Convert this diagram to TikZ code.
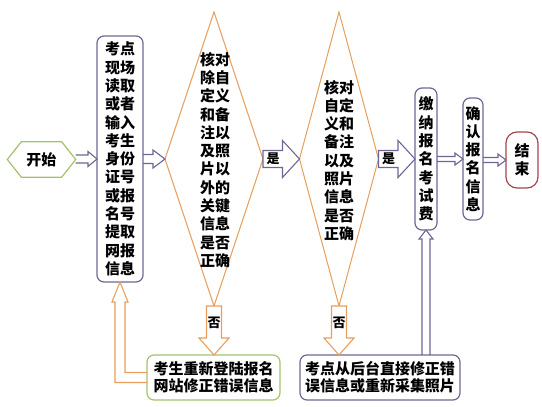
\documentclass[tikz,border=0pt]{standalone}
\usepackage{fontspec}
\newfontfamily\cjk{Noto Sans CJK SC}
\usetikzlibrary{shapes.geometric,calc}
\definecolor{pur}{RGB}{112,102,148}
\definecolor{org}{RGB}{232,158,92}
\definecolor{grn}{RGB}{165,193,110}
\definecolor{rdd}{RGB}{165,70,80}
\newcommand\cjkfont{\cjk\bfseries\fontsize{15}{18.3}\selectfont}
\newcommand\cjksmall{\cjk\bfseries\fontsize{13}{15}\selectfont}
\newcommand\cjkbottom{\cjk\bfseries\fontsize{15}{17}\selectfont}
\begin{document}
\begin{tikzpicture}[x=1pt,y=-1pt,
  box/.style={draw=pur,line width=1.2pt,rounded corners=7pt,inner sep=0pt,outer sep=0pt,align=center,font=\cjkfont},
  gbox/.style={box,draw=grn},
  rbox/.style={box,draw=rdd,rounded corners=11pt},
  dia/.style={diamond,draw=org,line width=1pt,inner sep=0pt,outer sep=0pt},
  txt/.style={inner sep=0pt,align=center,font=\cjkfont},
  lbl/.style={inner sep=0pt,font=\cjksmall},
  parrow/.style={draw=pur,line width=1.1pt,fill=white,line join=miter},
  oarrow/.style={draw=org,line width=1.1pt,fill=white,line join=miter}]
\useasboundingbox (0,0) rectangle (542,407);

% nodes
\node[txt,minimum width=68pt,minimum height=35pt] (start) at (41.5,159.5) {开始};
\draw[draw=grn,line width=1.2pt] (start.west) -- ($(start.north west)+(14,0)$) -- ($(start.north east)+(-14,0)$)
  -- (start.east) -- ($(start.south east)+(-14,0)$) -- ($(start.south west)+(14,0)$) -- cycle;

\node[box,minimum width=46pt,minimum height=246pt] (b1) at (120,159)
  {考点\\现场\\读取\\或者\\输入\\考生\\身份\\证号\\或报\\名号\\提取\\网报\\信息};

\node[dia,minimum width=98pt,minimum height=294pt] (d1) at (214,159) {};
\node[txt] (d1t) at (215,160) {核对\\除自\\定义\\和备\\注以\\及照\\片以\\外的\\关键\\信息\\是否\\正确};

\node[dia,minimum width=79pt,minimum height=294pt] (d2) at (339,159) {};
\node[txt] (d2t) at (339,160.5) {核对\\自定\\义和\\备注\\以及\\照片\\信息\\是否\\正确};

\node[box,minimum width=22pt,minimum height=142pt] (b3) at (426,159) {缴\\纳\\报\\名\\考\\试\\费};
\node[box,minimum width=20pt,minimum height=122pt] (b4) at (473,159) {确\\认\\报\\名\\信\\息};
\node[rbox,minimum width=32pt,minimum height=56pt] (end) at (522,160) {结\\束};

\node[gbox,minimum width=133pt,minimum height=45pt,font=\cjkbottom] (b5) at (213.5,377.5)
  {考生重新登陆报名\\网站修正错误信息};
\node[box,minimum width=160pt,minimum height=45pt,font=\cjkbottom] (b6) at (380,377.5)
  {考点从后台直接修正错\\误信息或重新采集照片};

% thin hollow arrows (open at start)
\draw[parrow,fill=none] let \p1=(start.east), \p2=(b1.west) in
  (\x1,{\y2+4pt}) -- ({\x2-9pt},{\y2+4pt}) -- ({\x2-9pt},{\y2+7.5pt}) -- (\x2,\y2)
  -- ({\x2-9pt},{\y2-7.5pt}) -- ({\x2-9pt},{\y2-4pt}) -- (\x1,{\y2-4pt});
\draw[parrow,fill=none] let \p1=(b1.east), \p2=(d1.west) in
  (\x1,{\y2+4.5pt}) -- ({\x2-12pt},{\y2+4.5pt}) -- ({\x2-12pt},{\y2+9pt}) -- (\x2,\y2)
  -- ({\x2-12pt},{\y2-9pt}) -- ({\x2-12pt},{\y2-4.5pt}) -- (\x1,{\y2-4.5pt});
\draw[parrow,fill=none] let \p1=(b3.east), \p2=(b4.west) in
  (\x1,{\y2+2.5pt}) -- ({\x2-8pt},{\y2+2.5pt}) -- ({\x2-8pt},{\y2+6pt}) -- (\x2,\y2)
  -- ({\x2-8pt},{\y2-6pt}) -- ({\x2-8pt},{\y2-2.5pt}) -- (\x1,{\y2-2.5pt});
\draw[parrow,fill=none] let \p1=(b4.east), \p2=(end.west) in
  (\x1,{\y2+2.5pt}) -- ({\x2-8pt},{\y2+2.5pt}) -- ({\x2-8pt},{\y2+6pt}) -- (\x2,\y2)
  -- ({\x2-8pt},{\y2-6pt}) -- ({\x2-8pt},{\y2-2.5pt}) -- (\x1,{\y2-2.5pt});

% block arrows "是"
\draw[parrow] let \p1=(d1.east), \p2=(d2.west) in
  (\x1,{\y2+8.5pt}) -- ({\x2-17pt},{\y2+8.5pt}) -- ({\x2-17pt},{\y2+18.5pt}) -- (\x2,\y2)
  -- ({\x2-17pt},{\y2-18.5pt}) -- ({\x2-17pt},{\y2-8.5pt}) -- (\x1,{\y2-8.5pt}) -- cycle;
\node[lbl] (yes1) at ($(d1.east)+(10,0)$) {是};
\draw[parrow] let \p1=(d2.east), \p2=(b3.west) in
  (\x1,{\y2+8.5pt}) -- ({\x2-17pt},{\y2+8.5pt}) -- ({\x2-17pt},{\y2+18.5pt}) -- (\x2,\y2)
  -- ({\x2-17pt},{\y2-18.5pt}) -- ({\x2-17pt},{\y2-8.5pt}) -- (\x1,{\y2-8.5pt}) -- cycle;
\node[lbl] (yes2) at ($(d2.east)+(10,0)$) {是};

% block arrows "否"
\draw[oarrow] let \p1=(d1.south), \p2=(b5.north -| d1.south) in
  ({\x1-7.5pt},\y1) -- ({\x1-7.5pt},{\y2+17pt}) -- ({\x1-15pt},{\y2+17pt}) -- (\x2,\y2)
  -- ({\x1+15pt},{\y2+17pt}) -- ({\x1+7.5pt},{\y2+17pt}) -- ({\x1+7.5pt},\y1) -- cycle;
\node[lbl] (no1) at ($(d1.south)+(0,17)$) {否};
\draw[oarrow] let \p1=(d2.south), \p2=(b6.north -| d2.south) in
  ({\x1-7.5pt},\y1) -- ({\x1-7.5pt},{\y2+17pt}) -- ({\x1-15pt},{\y2+17pt}) -- (\x2,\y2)
  -- ({\x1+15pt},{\y2+17pt}) -- ({\x1+7.5pt},{\y2+17pt}) -- ({\x1+7.5pt},\y1) -- cycle;
\node[lbl] (no2) at ($(d2.south)+(0,17)$) {否};

% L arrow b5 -> b1
\draw[oarrow,fill=none] let \p1=(b5.west), \p2=(b1.south) in
  (\x1,{\y1+5pt}) -- ({\x2+5pt},{\y1+5pt}) -- ({\x2+5pt},{\y2-20pt}) -- ({\x2+8pt},{\y2-20pt})
  -- (\x2,\y2) -- ({\x2-8pt},{\y2-20pt}) -- ({\x2-5pt},{\y2-20pt}) -- ({\x2-5pt},{\y1-5pt}) -- (\x1,{\y1-5pt});

% b6 -> b3
\draw[parrow,fill=none] let \p1=(b3.south |- b6.north), \p2=(b3.south) in
  ({\x1-4pt},\y1) -- ({\x1-4pt},{\y2-9pt}) -- ({\x1-7pt},{\y2-9pt}) -- (\x2,\y2)
  -- ({\x1+7pt},{\y2-9pt}) -- ({\x1+4pt},{\y2-9pt}) -- ({\x1+4pt},\y1);
\end{tikzpicture}
\end{document}
